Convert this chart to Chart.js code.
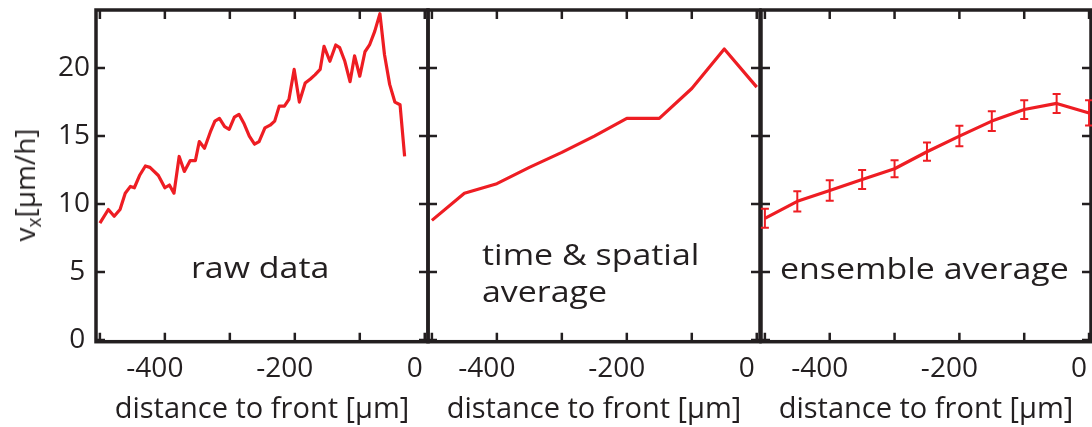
<!DOCTYPE html>
<html>
<head>
<meta charset="utf-8">
<script src="https://cdn.jsdelivr.net/npm/chart.js@4.4.0/dist/chart.umd.min.js"></script>
<style>
  html, body { margin: 0; padding: 0; background: #fff; }
  .wrap { position: relative; width: 1092px; height: 427px; overflow: hidden;
          font-family: "Open Sans", sans-serif; color: #231f20; }
  .wrap canvas { position: absolute; top: 0; }
  .note { position: absolute; font-size: 29px; line-height: 29px; white-space: nowrap;
          transform-origin: 0 0; transform: scaleX(1.17); }
  .ytitle { position: absolute; left: 24px; top: 184.5px; font-size: 28px; line-height: 28px;
            white-space: nowrap; transform: translate(-50%, -50%) rotate(-90deg); }
  .ytitle sub { font-size: 0.68em; line-height: 0; vertical-align: -0.3em; }
</style>
</head>
<body>
<div class="wrap">
  <canvas id="c-raw" width="440" height="427" style="left:0px"></canvas>
  <canvas id="c-avg" width="440" height="427" style="left:332px"></canvas>
  <canvas id="c-ens" width="438" height="427" style="left:665px"></canvas>
  <div class="ytitle">v<sub>x</sub>[µm/h]</div>
  <div class="note" style="left:191px; top:252px">raw data</div>
  <div class="note" style="left:482px; top:239px">time &amp; spatial</div>
  <div class="note" style="left:482px; top:276px">average</div>
  <div class="note" style="left:780px; top:252.5px">ensemble average</div>
</div>
<script>
// ---- data ----
const rawX = [-500, -487, -478, -469, -461, -453, -447, -439, -430, -423,
  -410, -400, -393, -386, -378, -370, -361, -353, -347, -339,
  -330, -323, -316, -308, -301, -293, -286, -278, -270, -262,
  -255, -246, -238, -231, -224, -216, -209, -201, -193, -184,
  -176, -169, -161, -155, -146, -137, -131, -123, -115, -108,
  -100, -92, -85, -77, -69, -62, -54, -46, -38, -31];
const rawY = [8.6, 9.6, 9.1, 9.6, 10.8, 11.3, 11.2, 12.1, 12.8, 12.7,
  12.1, 11.2, 11.4, 10.8, 13.5, 12.4, 13.2, 13.2, 14.6, 14.1,
  15.3, 16.1, 16.3, 15.7, 15.5, 16.4, 16.6, 15.9, 15.0, 14.4,
  14.6, 15.6, 15.8, 16.1, 17.2, 17.2, 17.7, 19.9, 17.5, 18.9,
  19.2, 19.5, 19.9, 21.6, 20.5, 21.7, 21.5, 20.5, 19.0, 20.9,
  19.4, 21.2, 21.7, 22.7, 24.0, 21.0, 18.8, 17.5, 17.3, 13.5];

const binX = [-500, -450, -400, -350, -300, -250, -200, -150, -100, -50, 0];
const avgY = [8.8, 10.8, 11.5, 12.7, 13.8, 15.0, 16.3, 16.3, 18.5, 21.4, 18.6];
const ensY = [8.95, 10.2, 11.0, 11.8, 12.6, 13.85, 15.0, 16.1, 16.95, 17.4, 16.7];
const ensErr = [0.7, 0.75, 0.75, 0.7, 0.63, 0.67, 0.75, 0.73, 0.69, 0.7, 0.93];

const xTicks = [-500, -400, -300, -200, -100, 0];
const yTicks = [0, 5, 10, 15, 20];
const xTitle = "distance to front [µm]";

// ---- style ----
const INK = "#231f20", RED = "#ee1d23", FONT = "'Open Sans', sans-serif";
const TICK_LEN = 9;

const el = (id) => document.getElementById(id);
const pts = (xs, ys) => xs.map((x, i) => ({ x, y: ys[i] }));

// box with inward ticks on all four sides (MATLAB "box on" look)
const framePlugin = {
  id: "frame",
  afterDatasetsDraw(chart) {
    const { ctx, chartArea: a, scales: { x, y } } = chart;
    ctx.save();
    ctx.strokeStyle = INK;
    ctx.lineWidth = 2.5;
    ctx.beginPath();
    x.ticks.forEach(t => {
      const px = x.getPixelForValue(t.value);
      ctx.moveTo(px, a.bottom); ctx.lineTo(px, a.bottom - TICK_LEN);
      ctx.moveTo(px, a.top); ctx.lineTo(px, a.top + TICK_LEN);
    });
    y.ticks.forEach(t => {
      const py = y.getPixelForValue(t.value);
      ctx.moveTo(a.left, py); ctx.lineTo(a.left + TICK_LEN, py);
      ctx.moveTo(a.right, py); ctx.lineTo(a.right - TICK_LEN, py);
    });
    ctx.stroke();
    ctx.lineWidth = 3.5;
    ctx.strokeRect(a.left, a.top, a.width, a.height);
    ctx.restore();
  }
};

const errorBarPlugin = {
  id: "errbars",
  afterDatasetsDraw(chart, args, opts) {
    if (!opts.err) return;
    const { ctx, scales: { x, y } } = chart;
    const ds = chart.data.datasets[0].data;
    ctx.save();
    ctx.strokeStyle = RED;
    ctx.lineWidth = 2;
    ctx.beginPath();
    ds.forEach((p, i) => {
      const px = x.getPixelForValue(p.x);
      const top = y.getPixelForValue(p.y + opts.err[i]);
      const bot = y.getPixelForValue(p.y - opts.err[i]);
      ctx.moveTo(px, top); ctx.lineTo(px, bot);
      ctx.moveTo(px - 4, top); ctx.lineTo(px + 4, top);
      ctx.moveTo(px - 4, bot); ctx.lineTo(px + 4, bot);
    });
    ctx.stroke();
    ctx.restore();
  }
};

function makePanel(id, data, xMax, showY, err) {
  return new Chart(el(id), {
    type: "line",
    data: { datasets: [{ data, borderColor: RED, borderWidth: 3.2, pointRadius: 0,
      tension: 0, borderJoinStyle: "round", borderCapStyle: "butt" }] },
    options: {
      responsive: false, animation: false, devicePixelRatio: 1,
      layout: { padding: { top: 10, right: 12, left: 0, bottom: 0 } },
      plugins: { legend: { display: false }, tooltip: { enabled: false }, errbars: { err } },
      scales: {
        x: {
          type: "linear", min: -506, max: xMax,
          afterBuildTicks: s => { s.ticks = xTicks.map(v => ({ value: v })); },
          afterFit: s => { s.height = 85.3; s.paddingLeft = 0; s.paddingRight = 0; },
          grid: { display: false, drawTicks: false }, border: { display: false },
          ticks: { padding: 11, labelOffset: -10, color: INK, autoSkip: false, maxRotation: 0,
            font: { family: FONT, size: 28 }, callback: v => (v % 200 === 0 ? String(v) : "") },
          title: { display: true, text: xTitle, color: INK, padding: 0,
            font: { family: FONT, size: 29 } }
        },
        y: {
          min: -0.12, max: 24.27,
          afterBuildTicks: s => { s.ticks = yTicks.map(v => ({ value: v })); },
          afterFit: s => { s.width = 96; s.paddingTop = 0; s.paddingBottom = 0; },
          grid: { display: false, drawTicks: false }, border: { display: false },
          ticks: { display: showY, padding: 6, color: INK, font: { family: FONT, size: 28 },
            callback: v => (v < 10 ? v + "\u2009" : String(v)) }
        }
      }
    },
    plugins: [framePlugin, errorBarPlugin]
  });
}

makePanel("c-raw", pts(rawX, rawY), 5, true, null);
makePanel("c-avg", pts(binX, avgY), 5, false, null);
makePanel("c-ens", pts(binX, ensY), 3, false, ensErr);
</script>
</body>
</html>
